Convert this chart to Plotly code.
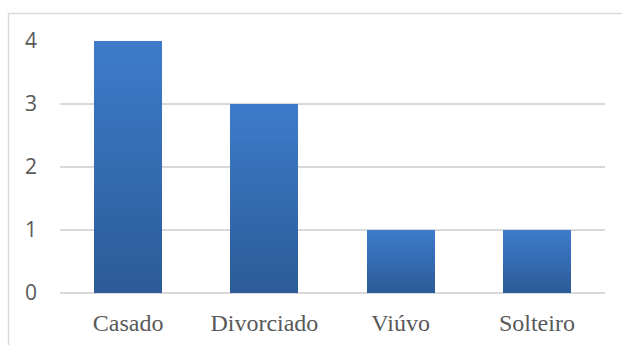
import plotly.graph_objects as go

# Estado civil: contagem por categoria
categories = ["Casado", "Divorciado", "Viúvo", "Solteiro"]
counts = [4, 3, 1, 1]
y_ticks = [0, 1, 2, 3, 4]

# Vertical gradient for the bars: dark at the base, light at the top
BOTTOM = (44, 91, 152)
TOP = (61, 123, 202)
N_STEPS = 60


def mix(t):
    r, g, b = (round(BOTTOM[i] + (TOP[i] - BOTTOM[i]) * t) for i in range(3))
    return f"rgb({r},{g},{b})"


fig = go.Figure()
for k in range(N_STEPS):
    fig.add_trace(go.Bar(
        x=categories,
        y=[v / N_STEPS for v in counts],
        marker=dict(color=mix(k / (N_STEPS - 1)), line=dict(width=0)),
        showlegend=False,
        hoverinfo="skip",
    ))

L, R, T, B = 60, 17, 41, 52
W, H = 622, 345
pw, ph = W - L - R, H - T - B

# Chart-area frame (left and top edges visible)
fig.add_shape(
    type="rect", xref="paper", yref="paper",
    x0=(8.5 - L) / pw, x1=(W + 5 - L) / pw,
    y0=-(B + 5) / ph, y1=(H - B - 13.5) / ph,
    line=dict(color="#d9d9d9", width=1.5),
    fillcolor="rgba(0,0,0,0)", layer="below",
)

fig.update_layout(
    width=W, height=H,
    margin=dict(l=L, r=R, t=T, b=B, autoexpand=False),
    paper_bgcolor="white", plot_bgcolor="white",
    barmode="stack", bargap=0.5,
    xaxis=dict(
        showgrid=False, showline=False, ticks="", automargin=False,
        tickfont=dict(family="Liberation Serif", size=24, color="#595959"),
        ticklabelstandoff=13,
    ),
    yaxis=dict(
        range=[0, 4], tickvals=y_ticks, ticks="", automargin=False,
        showgrid=True, gridcolor="#d9d9d9", gridwidth=2,
        zeroline=True, zerolinecolor="#d9d9d9", zerolinewidth=2,
        showline=False,
        tickfont=dict(family="Open Sans", size=21, color="#595959"),
        ticklabelstandoff=22,
    ),
)

fig.write_html("out.html")
